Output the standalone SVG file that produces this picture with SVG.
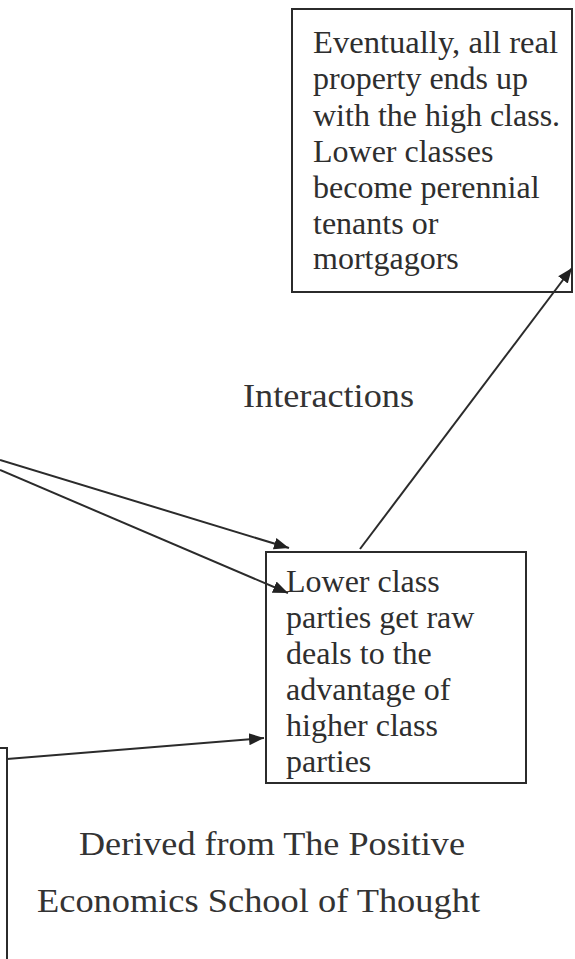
<svg xmlns="http://www.w3.org/2000/svg" width="575" height="959" viewBox="0 0 575 959">
<defs>
<style>
.box{fill:#fff;stroke:#2b2b2b;stroke-width:2}
.t{font-family:"Liberation Serif","Times New Roman",serif;font-size:32px;fill:#2e2e2e}
.lbl{font-family:"Liberation Serif","Times New Roman",serif;font-size:34px;fill:#333}
.c{fill:none;stroke:#2b2b2b;stroke-width:2}
</style>
<marker id="ah2" viewBox="0 0 10 10" refX="10" refY="5" markerWidth="15" markerHeight="15" markerUnits="userSpaceOnUse" orient="auto"><path d="M0,1 L10,5 L0,9 z" fill="#222"/></marker>
</defs>
<rect width="575" height="959" fill="#fff"/>
<g id="node-top">
<rect class="box" x="292" y="9" width="280" height="283"/>
<text class="t" x="313" y="53" textLength="245" lengthAdjust="spacingAndGlyphs">Eventually, all real</text>
<text class="t" x="313" y="89">property ends up</text>
<text class="t" x="313" y="126">with the high class.</text>
<text class="t" x="313" y="162">Lower classes</text>
<text class="t" x="313" y="198">become perennial</text>
<text class="t" x="313" y="234">tenants or</text>
<text class="t" x="313" y="269">mortgagors</text>
</g>
<g id="node-bottom">
<rect class="box" x="266" y="552" width="260" height="231"/>
<text class="t" x="286" y="592">Lower class</text>
<text class="t" x="286" y="628">parties get raw</text>
<text class="t" x="286" y="664">deals to the</text>
<text class="t" x="286" y="700">advantage of</text>
<text class="t" x="286" y="736">higher class</text>
<text class="t" x="286" y="772">parties</text>
</g>
<g id="node-left">
<path class="c" d="M0,748 L7,748 L7,959"/>
</g>
<g id="labels">
<text class="lbl" x="243" y="407" textLength="171" lengthAdjust="spacingAndGlyphs">Interactions</text>
<text class="lbl" x="79" y="855" textLength="386" lengthAdjust="spacingAndGlyphs">Derived from The Positive</text>
<text class="lbl" x="37" y="912" textLength="443" lengthAdjust="spacingAndGlyphs">Economics School of Thought</text>
</g>
<g id="connectors">
<line class="c" x1="0" y1="460" x2="289" y2="548" marker-end="url(#ah2)"/>
<line class="c" x1="0" y1="470" x2="288" y2="593" marker-end="url(#ah2)"/>
<line class="c" x1="7" y1="759" x2="264" y2="738" marker-end="url(#ah2)"/>
<line class="c" x1="360" y1="549" x2="572" y2="268" marker-end="url(#ah2)"/>
</g>
</svg>
